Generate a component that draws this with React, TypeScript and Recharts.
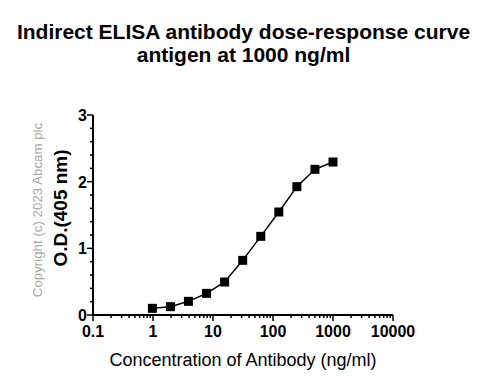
import React from "react";
import { LineChart, Line, XAxis, YAxis, Label } from "recharts";

// antibody concentration (ng/ml), two-fold dilutions from 1000
const concentration = [0.977, 1.953, 3.906, 7.8125, 15.625, 31.25, 62.5, 125, 250, 500, 1000];
const odValues = [0.1, 0.125, 0.205, 0.325, 0.495, 0.82, 1.18, 1.545, 1.925, 2.185, 2.295];

const xDecades = [0.1, 1, 10, 100, 1000, 10000];
const xMinorSteps = [2, 3, 4, 5, 6, 7, 8, 9];
const yMajor = [0, 1, 2, 3];
const yTicks = [0, 0.2, 0.4, 0.6, 0.8, 1, 1.2, 1.4, 1.6, 1.8, 2, 2.2, 2.4, 2.6, 2.8, 3];

const data = concentration.map((c, i) => ({ conc: c, od: odValues[i] }));

const xTicks: number[] = [];
xDecades.forEach((d, i) => {
  xTicks.push(d);
  if (i < xDecades.length - 1) xMinorSteps.forEach((m) => xTicks.push(+(d * m).toPrecision(3)));
});

const FONT = "'Liberation Sans', Arial, sans-serif";

const XTick = (props: any) => {
  const { x, y, payload } = props;
  const major = xDecades.includes(payload.value);
  return (
    <g>
      <line x1={x} y1={y} x2={x} y2={y + (major ? 6 : 3)} stroke="#000" strokeWidth={1.5} />
      {major && (
        <text x={x} y={y + 22} textAnchor="middle" fontSize={16} fontWeight="bold" fontFamily={FONT} fill="#000">
          {String(payload.value)}
        </text>
      )}
    </g>
  );
};

const YTick = (props: any) => {
  const { x, y, payload } = props;
  const major = yMajor.includes(payload.value);
  return (
    <g>
      <line x1={x - (major ? 6 : 3)} y1={y} x2={x} y2={y} stroke="#000" strokeWidth={1.5} />
      {major && (
        <text x={x - 6} y={y + 6} textAnchor="end" fontSize={16} fontWeight="bold" fontFamily={FONT} fill="#000">
          {payload.value}
        </text>
      )}
    </g>
  );
};

const SquareDot = (props: any) => {
  const { cx, cy } = props;
  if (cx == null || cy == null) return null;
  return <rect x={cx - 4.5} y={cy - 4.5} width={9} height={9} fill="#000" />;
};

export default function App() {
  return (
    <div style={{ position: "absolute", left: 0, top: 0, width: 487, height: 386, background: "#fff", fontFamily: FONT }}>
      <div
        style={{
          position: "absolute", left: 0, top: 20, width: 487, textAlign: "center",
          fontSize: 21, fontWeight: "bold", lineHeight: "23px", color: "#000",
        }}
      >
        Indirect ELISA antibody dose-response curve
        <br />
        antigen at 1000 ng/ml
      </div>
      <div
        style={{
          position: "absolute", left: 37, top: 210, transform: "translate(-50%, -50%) rotate(-90deg)",
          whiteSpace: "nowrap", fontSize: 13.3, color: "#a6a6a6",
        }}
      >
        Copyright (c) 2023 Abcam plc
      </div>
      <LineChart width={487} height={386} data={data} margin={{ top: 115, right: 94, bottom: 41, left: 33 }}>
        <XAxis
          dataKey="conc"
          type="number"
          scale="log"
          domain={[0.1, 10000]}
          allowDataOverflow
          ticks={xTicks}
          interval={0}
          tick={<XTick />}
          tickSize={0}
          tickMargin={0}
          tickLine={false}
          axisLine={{ stroke: "#000", strokeWidth: 2 }}
          height={30}
        >
          <Label
            value="Concentration of Antibody (ng/ml)"
            position="bottom"
            offset={8}
            style={{ fontSize: 18, fontFamily: FONT, fill: "#000" }}
          />
        </XAxis>
        <YAxis
          type="number"
          domain={[0, 3]}
          ticks={yTicks}
          interval={0}
          tick={<YTick />}
          tickSize={0}
          tickMargin={0}
          tickLine={false}
          axisLine={{ stroke: "#000", strokeWidth: 2 }}
          width={60}
        >
          <Label
            value="O.D.(405 nm)"
            angle={-90}
            position="center"
            dx={-3}
            dy={-7}
            style={{ fontSize: 19, fontWeight: "bold", fontFamily: FONT, fill: "#000", textAnchor: "middle" }}
          />
        </YAxis>
        <Line
          type="linear"
          dataKey="od"
          stroke="#000"
          strokeWidth={1.5}
          dot={<SquareDot />}
          activeDot={false}
          isAnimationActive={false}
        />
      </LineChart>
    </div>
  );
}
